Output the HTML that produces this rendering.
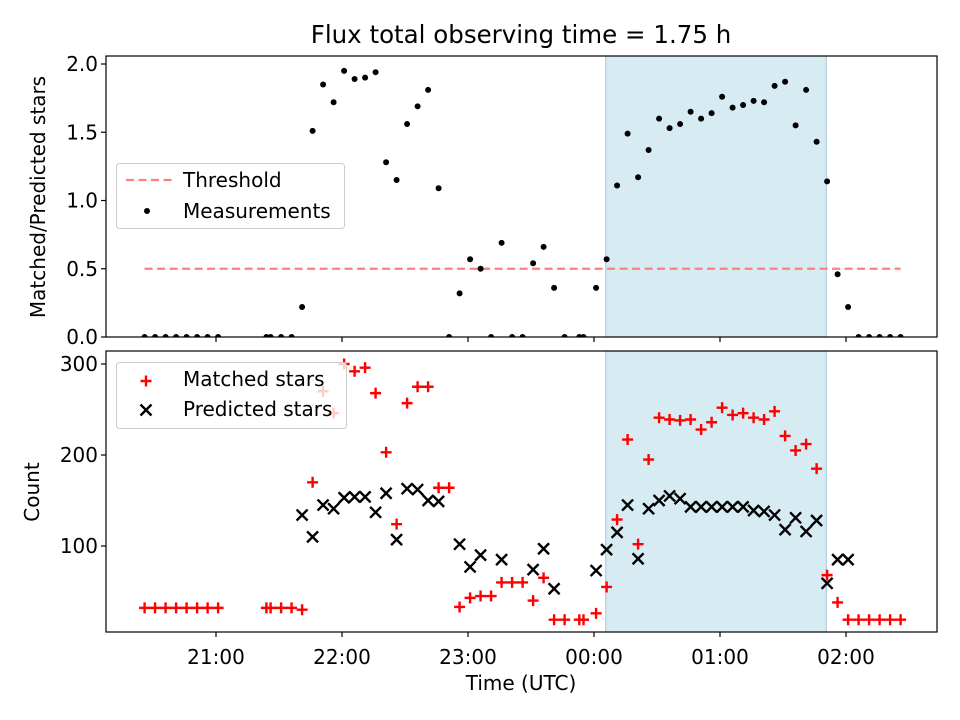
<!DOCTYPE html>
<html><head><meta charset="utf-8"><style>
html,body{margin:0;padding:0;background:#fff;}
svg{display:block;font-family:"DejaVu Sans","Liberation Sans",sans-serif;}
</style></head><body>
<svg id="chart" width="960" height="720" viewBox="0 0 960 720" xmlns="http://www.w3.org/2000/svg"></svg>
<script>
// ---- data (time in minutes after 20:00 UTC) ----
const ratioTimes = [26,31,36,41,46,51,56,61,84,86,91,96,101,106,111,116,121,126,131,136,141,146,151,156,161,166,171,176,181,186,191,196,201,206,211,216,221,226,233,235,241,246,251,256,261,266,271,276,281,286,291,296,301,306,311,316,321,326,331,336,341,346,351,356,361,366,371,376,381,386];
const ratioValues = [0,0,0,0,0,0,0,0,0,0,0,0,0.22,1.51,1.85,1.72,1.95,1.89,1.90,1.94,1.28,1.15,1.56,1.69,1.81,1.09,0,0.32,0.57,0.50,0,0.69,0,0,0.54,0.66,0.36,0,0,0,0.36,0.57,1.11,1.49,1.17,1.37,1.60,1.53,1.56,1.65,1.60,1.64,1.76,1.68,1.70,1.73,1.72,1.84,1.87,1.55,1.81,1.43,1.14,0.46,0.22,0,0,0,0,0];
const matchedTimes = ratioTimes;
const matchedValues = [32,32,32,32,32,32,32,32,32,32,32,32,30,170,270,246,300,292,296,268,203,124,257,275,275,164,164,33,43,45,45,60,60,60,40,65,19,19,19,19,26,55,129,217,102,195,241,239,238,239,228,236,252,244,246,241,239,248,221,205,212,185,68,38,19,19,19,19,19,19];
const predictedTimes = [101,106,111,116,121,126,131,136,141,146,151,156,161,166,176,181,186,196,211,216,221,241,246,251,256,261,266,271,276,281,286,291,296,301,306,311,316,321,326,331,336,341,346,351,356,361];
const predictedValues = [134,110,145,141,153,154,154,137,158,107,163,162,150,149,102,77,90,85,74,97,53,73,96,115,145,86,141,150,155,152,143,143,143,143,143,143,139,138,134,118,131,116,128,59,85,85];
const thresholdValue = 0.5;
const spanStart = 245.6, spanEnd = 350.6;
const xTickTimes = [60,120,180,240,300,360];
const xTickLabels = ["21:00","22:00","23:00","00:00","01:00","02:00"];
const topTicks = [0,0.5,1.0,1.5,2.0];
const topTickLabels = ["0.0","0.5","1.0","1.5","2.0"];
const botTicks = [100,200,300];
const botTickLabels = ["100","200","300"];

// ---- axes ----
const L=106,R=937, T1=56,B1=337, T2=351,B2=632;
const FS='20px', TFS='20px';
const xs = t => 216 + (t-60)*2.1;
const yTop = v => 337 - v*136.5;
const yBot = v => 637 - v*0.91;
const NS="http://www.w3.org/2000/svg";
const svg=document.getElementById('chart');
function mk(tag,attrs,parent){const e=document.createElementNS(NS,tag);for(const k in attrs)e.setAttribute(k,attrs[k]);(parent||svg).appendChild(e);return e;}
function txt(s,attrs,parent){const e=mk('text',attrs,parent);e.textContent=s;return e;}

const defs=mk('defs',{});
const c1=mk('clipPath',{id:'clipTop'},defs);mk('rect',{x:L,y:T1,width:R-L,height:B1-T1},c1);
const c2=mk('clipPath',{id:'clipBot'},defs);mk('rect',{x:L,y:T2,width:R-L,height:B2-T2},c2);

// title
let e=txt("Flux total observing time = 1.75 h",{x:521,y:43,'text-anchor':'middle','font-size':'24.5px',fill:'#000'});



// ---------- TOP PANEL ----------
const gTop=mk('g',{'clip-path':'url(#clipTop)'});


e=mk('rect',{x:xs(spanStart),y:T1,width:xs(spanEnd)-xs(spanStart),height:B1-T1,fill:'#add8e6','fill-opacity':0.5,stroke:'#9fc9d8','stroke-width':1},gTop);


e=mk('line',{x1:xs(ratioTimes[0]),x2:xs(ratioTimes[ratioTimes.length-1]),y1:yTop(thresholdValue),y2:yTop(thresholdValue),stroke:'#ff7f7f','stroke-width':2.2,'stroke-dasharray':'8,4.5'},gTop);


ratioTimes.forEach((t,i)=>{
  const d=mk('circle',{cx:xs(t),cy:yTop(ratioValues[i]),r:3,fill:'#000'},gTop);
  
  
});
e=mk('rect',{x:L,y:T1,width:R-L,height:B1-T1,fill:'none',stroke:'#000','stroke-width':1.2});


topTicks.forEach((v,i)=>{
  mk('line',{x1:L-5,x2:L,y1:yTop(v),y2:yTop(v),stroke:'#000','stroke-width':1.2});
  const t=txt(topTickLabels[i],{x:L-8,y:yTop(v)+7,'text-anchor':'end','font-size':TFS});
  
  
});
xTickTimes.forEach(tm=>{mk('line',{x1:xs(tm),x2:xs(tm),y1:B1,y2:B1+5,stroke:'#000','stroke-width':1.2});});
e=txt("Matched/Predicted stars",{x:0,y:0,'text-anchor':'middle','font-size':FS,transform:'translate(45,197) rotate(-90)'});



// top legend
const lg1=mk('g',{});


mk('rect',{x:116.5,y:163.5,width:228,height:65,rx:3,fill:'#fff','fill-opacity':0.8,stroke:'#ccc','stroke-width':1},lg1);
mk('line',{x1:126,x2:173,y1:180,y2:180,stroke:'#ff7f7f','stroke-width':2.2,'stroke-dasharray':'8,4.5'},lg1);
e=txt("Threshold",{x:183,y:187,'font-size':FS},lg1);


mk('circle',{cx:147,cy:211,r:3,fill:'#000'},lg1);
e=txt("Measurements",{x:183,y:218,'font-size':FS},lg1);



// ---------- BOTTOM PANEL ----------
const gBot=mk('g',{'clip-path':'url(#clipBot)'});


e=mk('rect',{x:xs(spanStart),y:T2,width:xs(spanEnd)-xs(spanStart),height:B2-T2,fill:'#add8e6','fill-opacity':0.5,stroke:'#9fc9d8','stroke-width':1},gBot);


function plus(x,y,p,col){const s=5.5;return mk('path',{d:`M${x-s},${y}H${x+s}M${x},${y-s}V${y+s}`,stroke:col,'stroke-width':2.4,fill:'none'},p);}
function cross(x,y,p,col){const s=5.5;return mk('path',{d:`M${x-s},${y-s}L${x+s},${y+s}M${x-s},${y+s}L${x+s},${y-s}`,stroke:col,'stroke-width':2.4,fill:'none'},p);}
matchedTimes.forEach((t,i)=>{
  const m=plus(xs(t),yBot(matchedValues[i]),gBot,'#ff0000');
  
  
});
predictedTimes.forEach((t,i)=>{
  const m=cross(xs(t),yBot(predictedValues[i]),gBot,'#000');
  
  
});
e=mk('rect',{x:L,y:T2,width:R-L,height:B2-T2,fill:'none',stroke:'#000','stroke-width':1.2});


botTicks.forEach((v,i)=>{
  mk('line',{x1:L-5,x2:L,y1:yBot(v),y2:yBot(v),stroke:'#000','stroke-width':1.2});
  const t=txt(botTickLabels[i],{x:L-8,y:yBot(v)+7,'text-anchor':'end','font-size':TFS});
  
  
});
xTickTimes.forEach((tm,i)=>{
  mk('line',{x1:xs(tm),x2:xs(tm),y1:B2,y2:B2+5,stroke:'#000','stroke-width':1.2});
  const t=txt(xTickLabels[i],{x:xs(tm),y:664,'text-anchor':'middle','font-size':TFS});
  
  
});
e=txt("Time (UTC)",{x:521,y:690,'text-anchor':'middle','font-size':FS});


e=txt("Count",{x:0,y:0,'text-anchor':'middle','font-size':FS,transform:'translate(39,492) rotate(-90)'});



// bottom legend
const lg2=mk('g',{});


mk('rect',{x:116.5,y:362.5,width:230,height:66,rx:3,fill:'#fff','fill-opacity':0.8,stroke:'#ccc','stroke-width':1},lg2);
plus(146,381,lg2,'#ff0000');
e=txt("Matched stars",{x:183,y:386,'font-size':FS},lg2);


cross(146,410,lg2,'#000');
e=txt("Predicted stars",{x:183,y:416,'font-size':FS},lg2);


</script>
</body></html>
